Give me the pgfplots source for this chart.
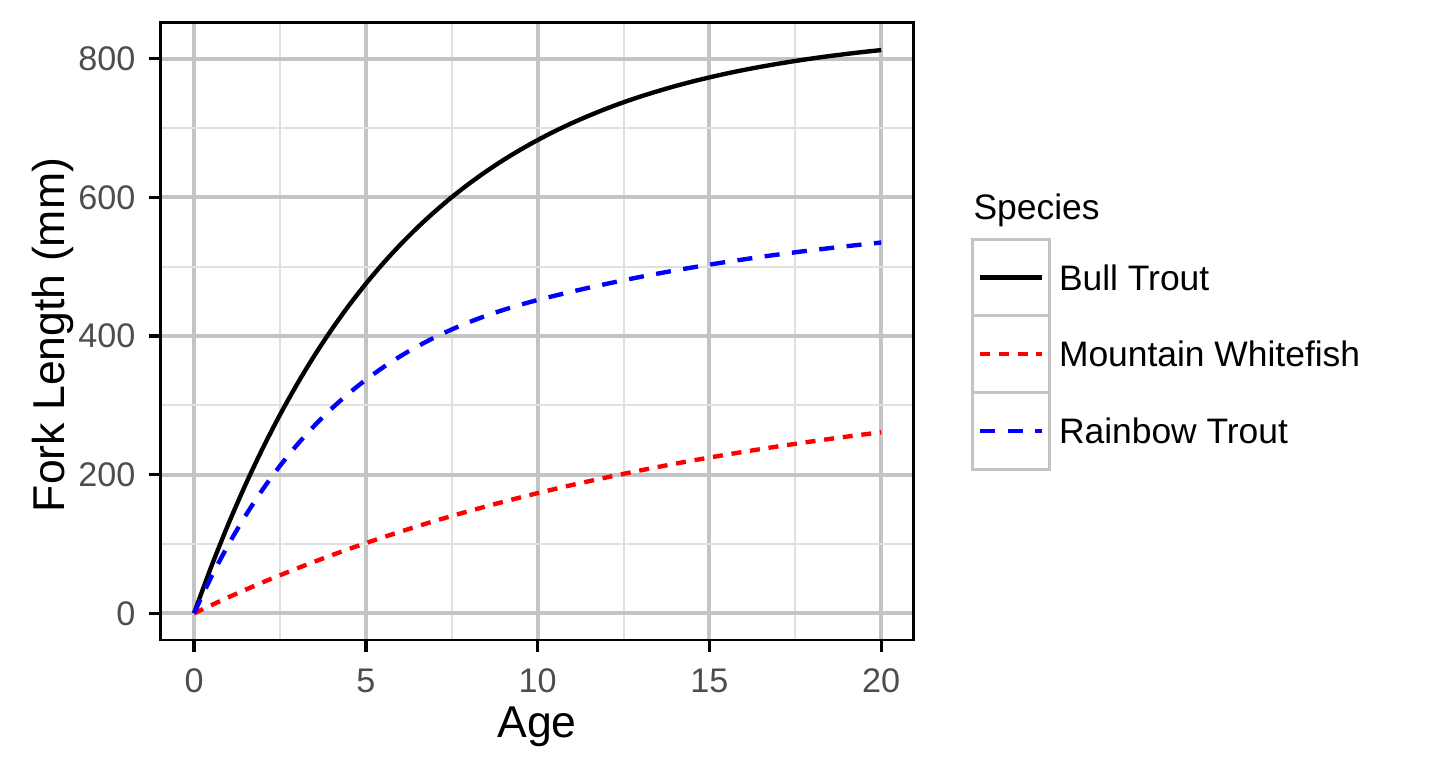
\documentclass[border=0pt]{standalone}
\usepackage{fontspec}
\setmainfont{Liberation Sans}
\usepackage{pgfplots}
\pgfplotsset{compat=1.18}

\definecolor{majgrid}{RGB}{196,196,196}
\definecolor{mingrid}{RGB}{224,224,224}
\definecolor{keygrey}{RGB}{196,196,196}
\definecolor{ticktext}{RGB}{77,77,77}

% fitted curves, one per species
\pgfplotstableread{
age len
0 0
0.5 67.1
1 128.9
1.5 185.8
2 238.1
2.5 286.3
3 330.6
3.5 371.5
4 409.0
4.5 443.6
5 475.4
5.5 504.7
6 531.6
6.5 556.4
7 579.2
7.5 600.3
8 619.6
8.5 637.4
9 653.8
9.5 668.8
10 682.7
10.5 695.5
11 707.2
11.5 718.0
12 728.0
12.5 737.2
13 745.6
13.5 753.3
14 760.5
14.5 767.1
15 773.1
15.5 778.7
16 783.8
16.5 788.5
17 792.8
17.5 796.8
18 800.5
18.5 803.9
19 807.0
19.5 809.9
20 812.5
}\bulltrout

\pgfplotstableread{
age len
0 0
1 23.1
2 44.7
3 64.8
4 83.7
5 101.3
6 117.7
7 133.1
8 147.4
9 160.8
10 173.4
11 185.1
12 196.0
13 206.2
14 215.8
15 224.7
16 233.0
17 240.8
18 248.1
19 254.9
20 261.2
}\whitefish

\pgfplotstableread{
age len
0 0
0.5 52.2
1 99.0
1.5 141.0
2 178.8
2.5 212.7
3 243.1
3.5 270.5
4 295.1
4.5 317.1
5 336.9
5.5 354.7
6 370.7
6.5 385.0
7 397.9
7.5 409.5
8 419.9
8.5 429.2
9 437.6
9.5 445.2
10 451.9
10.5 458.2
11 464.1
11.5 469.8
12 475.2
12.5 480.4
13 485.4
13.5 490.1
14 494.6
14.5 498.9
15 503.0
15.5 506.9
16 510.6
16.5 514.2
17 517.6
17.5 520.8
18 523.9
18.5 526.8
19 529.6
19.5 532.3
20 534.9
}\rainbow

\begin{document}
\begin{tikzpicture}
\begin{axis}[
    at={(0pt,0pt)}, anchor=south west,
    scale only axis,
    width=180.6pt, height=148.15pt,
    xmin=-0.97, xmax=20.93,
    ymin=-38.5, ymax=852,
    xtick={0,5,...,20},
    ytick={0,200,...,800},
    minor x tick num=1, minor y tick num=1,
    grid=both,
    major grid style={draw=majgrid, line width=0.96pt},
    minor grid style={draw=mingrid, line width=0.48pt},
    tick align=outside, tick pos=left,
    major tick length=2.8pt, minor tick length=0pt,
    every tick/.style={black, line width=0.8pt},
    axis line style={line width=0.65pt},
    /pgf/number format/assume math mode=true,
    tick label style={font=\fontsize{8.2}{9.8}\selectfont, text=ticktext, inner sep=0pt},
    xticklabel style={anchor=north, yshift=-3.9pt},
    yticklabel style={anchor=east, xshift=-3.1pt},
    label style={font=\fontsize{10.7}{12.8}\selectfont},
    xlabel={Age},
    ylabel={Fork Length (mm)},
    xlabel style={at={(axis description cs:0.5,-0.1586)}, anchor=base},
    ylabel style={at={(axis description cs:-0.1285,0.494)}, anchor=base},
    clip=false,
    legend cell align=left,
    legend style={at={(axis description cs:1.0766,0.652)}, anchor=north west,
        draw=none, fill=none, inner sep=0pt, outer sep=0pt,
        row sep=-0.72pt, column sep=2.04pt,
        nodes={inner sep=0pt, text depth=0pt, font=\fontsize{8.5}{10}\selectfont}},
    legend image code/.code={
        \draw[keygrey, line width=0.72pt, solid] (0pt,-9.2pt) rectangle (18.4pt,9.2pt);
        \draw[#1] (1.85pt,0pt) -- (16.65pt,0pt);
    },
]
\addplot[black, line width=1.05pt, smooth] table[x=age, y=len] {\bulltrout};
\addlegendentry{Bull Trout}
\addplot[red, line width=1.05pt, smooth, dash pattern=on 2.4pt off 2.1pt] table[x=age, y=len] {\whitefish};
\addlegendentry{Mountain Whitefish}
\addplot[blue, line width=1.05pt, smooth, dash pattern=on 3.6pt off 3pt] table[x=age, y=len] {\rainbow};
\addlegendentry{Rainbow Trout}

\node[anchor=base west, inner sep=0pt, font=\fontsize{8.5}{10}\selectfont]
    at (axis description cs:1.0791,0.6804) {Species};
\end{axis}
\pgfresetboundingbox
\path[use as bounding box] (-38.57pt,-30.72pt) rectangle (307.03pt,153.6pt);
\end{tikzpicture}
\end{document}
